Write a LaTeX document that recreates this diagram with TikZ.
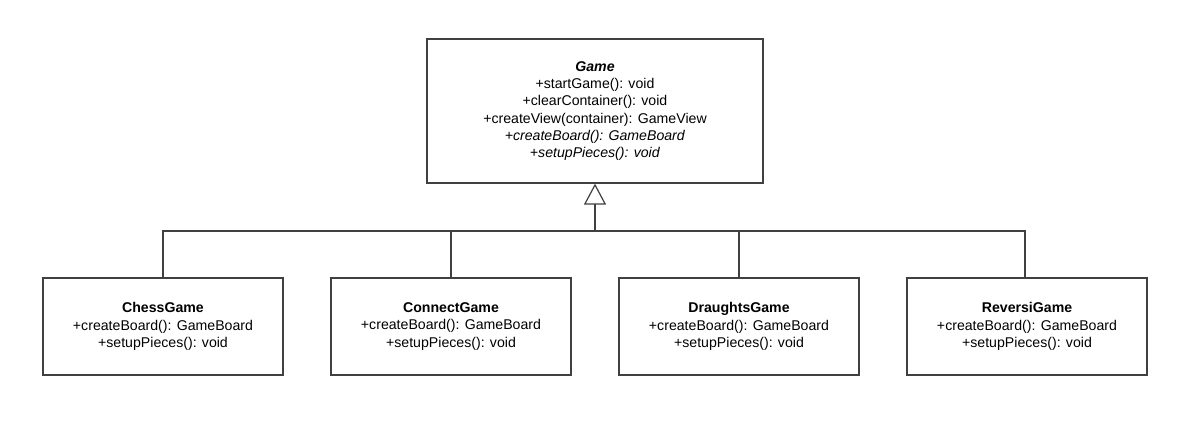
\documentclass[tikz,border=0pt]{standalone}
\usepackage{fontspec}
\setmainfont{Liberation Sans}
\usetikzlibrary{arrows.meta}

\tikzset{
    umlclass/.style={draw=black!75,line width=0.9pt,fill=white,align=center,
        font=\fontsize{10.6pt}{12.9pt}\selectfont,inner sep=0pt},
    umlline/.style={draw=black!75,line width=0.9pt}
}

\begin{document}
\begin{tikzpicture}[x=0.75pt,y=-0.75pt]
    \useasboundingbox[fill=white] (0,0) rectangle (1199,428);

    \node[umlclass,minimum width=252pt,minimum height=108pt] (game) at (595, 111)
        {\textbf{\textit{Game}}\\ +startGame(): void\\ +clearContainer(): void\\
         +createView(container): GameView\\ \textit{+createBoard(): GameBoard}\\
         \textit{+setupPieces(): void}};

    \node[umlclass,minimum width=180pt,minimum height=72.75pt] (chess) at (163, 326.5)
        {\textbf{ChessGame}\\ +createBoard(): GameBoard\\ +setupPieces(): void};
    \node[umlclass,minimum width=180pt,minimum height=72.75pt] (connect) at (451, 326.5)
        {\textbf{ConnectGame}\\ +createBoard(): GameBoard\\ +setupPieces(): void};
    \node[umlclass,minimum width=180pt,minimum height=72.75pt] (draughts) at (739, 326.5)
        {\textbf{DraughtsGame}\\ +createBoard(): GameBoard\\ +setupPieces(): void};
    \node[umlclass,minimum width=180pt,minimum height=72.75pt] (reversi) at (1027, 326.5)
        {\textbf{ReversiGame}\\ +createBoard(): GameBoard\\ +setupPieces(): void};

    \coordinate (bus) at (595, 231);
    \draw[umlline,-{Triangle[open,length=15.75pt,width=16.5pt]}] (bus) -- (game.south);
    \draw[umlline] (chess.north) |- (bus);
    \draw[umlline] (connect.north) |- (bus);
    \draw[umlline] (draughts.north) |- (bus);
    \draw[umlline] ([xshift=-1.5pt]reversi.north) |- (bus);
\end{tikzpicture}
\end{document}
